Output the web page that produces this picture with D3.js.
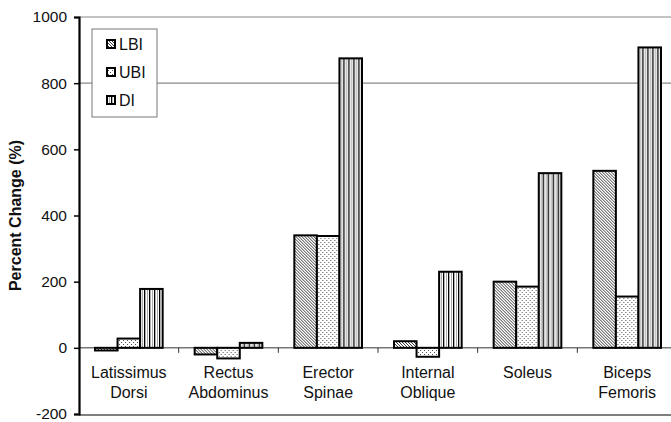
<!DOCTYPE html>
<html><head><meta charset="utf-8">
<script src="https://cdn.jsdelivr.net/npm/d3@7"></script>
<style>body{margin:0;background:#fff}svg{display:block;font-family:"Liberation Sans",Arial,sans-serif}</style>
</head><body><svg id="c" width="671" height="422"></svg>
<script>
const categories = [["Latissimus","Dorsi"],["Rectus","Abdominus"],["Erector","Spinae"],["Internal","Oblique"],["Soleus",""],["Biceps","Femoris"]];
const seriesNames = ["LBI","UBI","DI"];
const LBI = [-8, -20, 340, 20, 200, 535];
const UBI = [28, -32, 338, -27, 185, 155];
const DI  = [178, 15, 875, 230, 528, 908];
const yTicks = [-200, 0, 200, 400, 600, 800, 1000];
const gridValues = [800, 1000];

const svg = d3.select("#c");
const defs = svg.append("defs");
// patterns
const pL = defs.append("pattern").attr("id","pLBI").attr("patternUnits","userSpaceOnUse").attr("width",3).attr("height",3);
pL.append("rect").attr("width",3).attr("height",3).attr("fill","#fff");
pL.append("path").attr("d","M-1,-1 L4,4 M-1,2 L1,4 M2,-1 L4,1").attr("stroke","#222").attr("stroke-width",0.9);
const pU = defs.append("pattern").attr("id","pUBI").attr("patternUnits","userSpaceOnUse").attr("width",4).attr("height",4);
pU.append("rect").attr("width",4).attr("height",4).attr("fill","#fff");
pU.append("rect").attr("x",0).attr("y",0).attr("width",1).attr("height",1).attr("fill","#555");
pU.append("rect").attr("x",2).attr("y",2).attr("width",1).attr("height",1).attr("fill","#555");
const pD = defs.append("pattern").attr("id","pDI").attr("patternUnits","userSpaceOnUse").attr("width",5).attr("height",5);
pD.append("rect").attr("width",5).attr("height",5).attr("fill","#fff");
pD.append("rect").attr("x",0).attr("y",0).attr("width",1.3).attr("height",5).attr("fill","#000");
pD.append("rect").attr("x",3).attr("y",0).attr("width",1).attr("height",5).attr("fill","#aaa");
const fills = {LBI:"url(#pLBI)", UBI:"url(#pUBI)", DI:"url(#pDI)"};

const x0 = d3.scaleBand().domain(d3.range(categories.length)).range([79, 677]).paddingInner(0).paddingOuter(0);
const x1 = d3.scaleBand().domain(seriesNames).range([16, x0.bandwidth()-16]).padding(0);
const y = d3.scaleLinear().domain([-200, 1000]).range([414, 17]);

// gridlines
svg.append("g").selectAll("line").data(gridValues).join("line")
  .attr("x1",79).attr("x2",671).attr("y1",d=>y(d)).attr("y2",d=>y(d))
  .attr("stroke","#888").attr("stroke-width",1.2);
// bottom border line
svg.append("line").attr("x1",79).attr("x2",671).attr("y1",y(-200)+1).attr("y2",y(-200)+1).attr("stroke","#555").attr("stroke-width",1.5);

// zero axis with category ticks
const xAxisG = svg.append("g").attr("transform",`translate(0,${y(0)})`);
xAxisG.append("line").attr("x1",79).attr("x2",677).attr("stroke","#333").attr("stroke-width",1);
xAxisG.selectAll("line.t").data(d3.range(1,categories.length+1)).join("line").attr("class","t")
  .attr("x1",d=>x0(d-1)+x0.bandwidth()).attr("x2",d=>x0(d-1)+x0.bandwidth()).attr("y1",0).attr("y2",5)
  .attr("stroke","#333").attr("stroke-width",1);

// bars
const data = categories.map((c,i)=>({i, vals: seriesNames.map((s,k)=>({s, v:[LBI,UBI,DI][k][i]}))}));
const g = svg.append("g").selectAll("g").data(data).join("g").attr("transform",d=>`translate(${x0(d.i)},0)`);
g.selectAll("rect").data(d=>d.vals).join("rect")
  .attr("x",d=>x1(d.s)).attr("width",x1.bandwidth())
  .attr("y",d=>y(Math.max(0,d.v))).attr("height",d=>Math.abs(y(d.v)-y(0)))
  .attr("fill",d=>fills[d.s]).attr("stroke","#000").attr("stroke-width",2);

// category labels
const FS = 15.5;
const lab = svg.append("g").selectAll("text").data(categories).join("text")
  .attr("text-anchor","middle").attr("font-size",16).attr("fill","#111")
  .attr("x",(d,i)=>x0(i)+x0.bandwidth()/2);
lab.append("tspan").attr("x",(d,i)=>x0(i)+x0.bandwidth()/2).attr("y",377.5).text(d=>d[0]);
lab.append("tspan").attr("x",(d,i)=>x0(i)+x0.bandwidth()/2).attr("y",398).text(d=>d[1]);

// y axis
const yAxis = d3.axisLeft(y).tickValues(yTicks).tickSize(5).tickPadding(7).tickFormat(d=>String(d));
const ya = svg.append("g").attr("transform","translate(79,0)").call(yAxis);
ya.select(".domain").attr("stroke","#000").attr("stroke-width",2.2);
ya.selectAll(".tick line").attr("stroke","#000").attr("stroke-width",1.5);
ya.selectAll("text").attr("font-size",FS).attr("fill","#111").attr("font-family","'Liberation Sans',Arial,sans-serif");

// y title
svg.append("text").attr("transform",`translate(21,${y(400)}) rotate(-90)`).attr("text-anchor","middle")
  .attr("font-size",16).attr("font-weight","bold").attr("fill","#111").text("Percent Change (%)");

// legend
const lg = svg.append("g");
lg.append("rect").attr("x",92).attr("y",29).attr("width",65).attr("height",88).attr("fill","#fff").attr("stroke","#777").attr("stroke-width",1);
const li = lg.selectAll("g").data(seriesNames).join("g").attr("transform",(d,i)=>`translate(106,${44+i*28})`);
li.append("rect").attr("x",0).attr("y",-5).attr("width",10).attr("height",10).attr("fill","#000");
li.append("rect").attr("x",2).attr("y",-3).attr("width",6).attr("height",6).attr("fill",d=>fills[d]);
li.append("text").attr("x",13).attr("y",6).attr("font-size",16).attr("fill","#111").text(d=>d);
</script></body></html>
